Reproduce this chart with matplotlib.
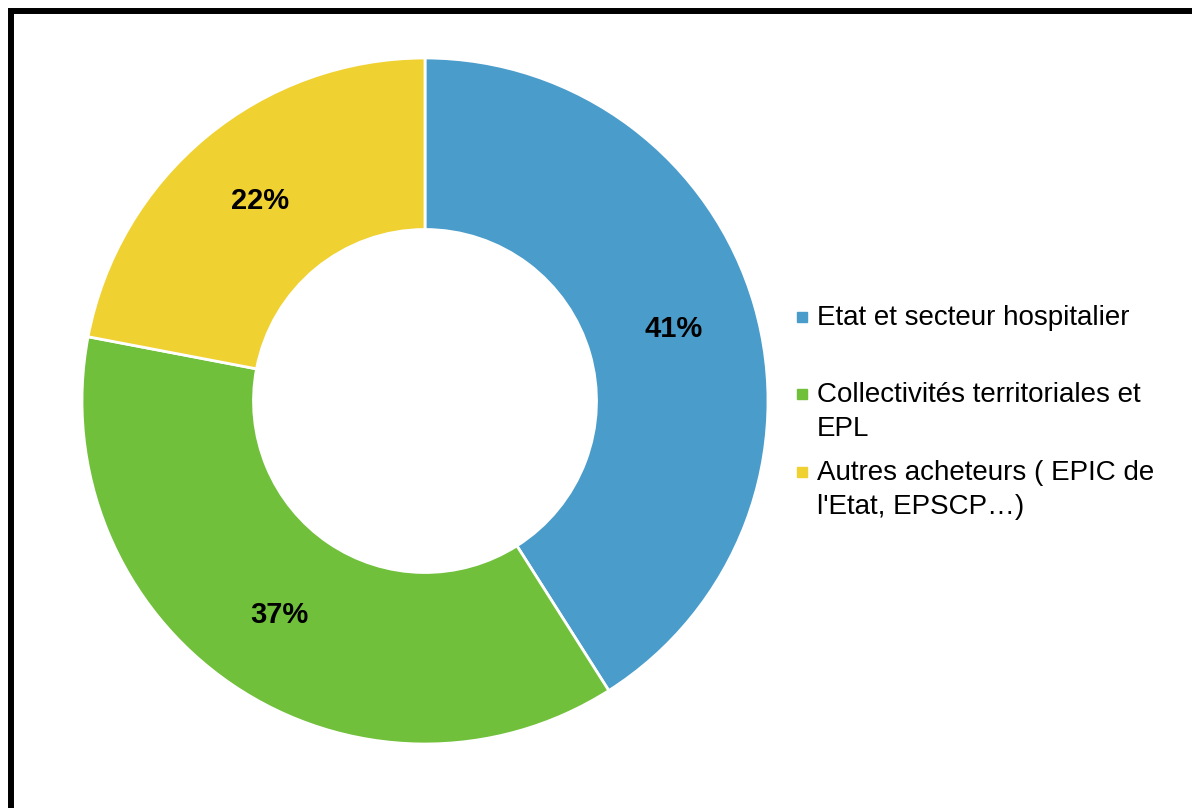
import matplotlib.pyplot as plt
from matplotlib.patches import Rectangle

labels = ["Etat et secteur hospitalier",
          "Collectivités territoriales et\nEPL",
          "Autres acheteurs ( EPIC de\nl'Etat, EPSCP…)"]
shares = [41, 37, 22]
colors = ["#4A9CCB", "#70C03B", "#F0D132"]

W, H = 1192, 808
fig = plt.figure(figsize=(W / 100, H / 100), dpi=100)
plt.rcParams['font.family'] = ['Liberation Sans', 'DejaVu Sans']

# square axes holding the donut
cx, cy, r = 425, 401, 343
ax = fig.add_axes([(cx - r) / W, (H - cy - r) / H, 2 * r / W, 2 * r / H])
wedges, texts, autotexts = ax.pie(
    shares, colors=colors, startangle=90, counterclock=False,
    radius=1, autopct=lambda p: f"{p:.0f}%", pctdistance=0.755,
    wedgeprops=dict(width=0.5, edgecolor="white", linewidth=2),
    textprops=dict(fontsize=21, fontweight="bold", color="black"))
ax.set_xlim(-1, 1)
ax.set_ylim(-1, 1)
ax.set_aspect("equal")
ax.axis("off")

# legend drawn by hand (Excel-like uneven spacing), baselines in pixels
first_baseline = [325, 402, 480]
line_step = 34
for lab, col, base in zip(labels, colors, first_baseline):
    for i, line in enumerate(lab.split("\n")):
        fig.text(817 / W, 1 - (base + i * line_step) / H, line, fontsize=20,
                 ha="left", va="baseline")
    fig.add_artist(Rectangle((797 / W, 1 - (base - 3) / H), 10 / W, 10 / H,
                             color=col, transform=fig.transFigure))

# thick frame around the chart area (right and bottom run off the image)
fig.add_artist(Rectangle((10.5 / W, -0.1), 2, 1.1 - 11 / H, fill=False,
                         edgecolor="black", linewidth=4.3,
                         transform=fig.transFigure))

fig.savefig("out.png", dpi=100)
